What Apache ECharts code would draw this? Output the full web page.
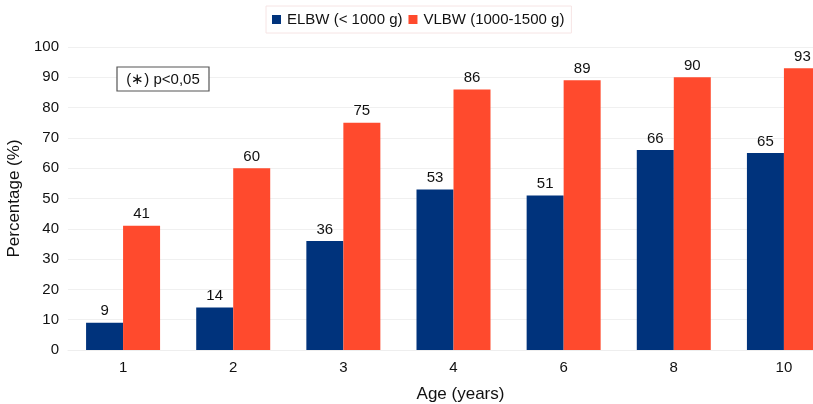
<!DOCTYPE html>
<html><head><meta charset="utf-8">
<script src="https://cdn.jsdelivr.net/npm/echarts@6/dist/echarts.min.js"></script>
<style>html,body{margin:0;padding:0;background:#fff}#c{width:813px;height:404px}</style>
</head><body><div id="c"></div>
<script>
const categories = ['1','2','3','4','6','8','10'];
const elbw = [9,14,36,53,51,66,65];
const vlbw = [41,60,75,86,89,90,93];
const seriesNames = ['ELBW (< 1000 g)','VLBW (1000-1500 g)'];
const yTicks = {min:0,max:100,interval:10};

const chart = echarts.init(document.getElementById('c'));
const font = 'Liberation Sans, Arial, sans-serif';
chart.setOption({
  animation:false,
  textStyle:{fontFamily:font},
  legend:{
    top:6, left:266,
    itemWidth:9, itemHeight:9, itemGap:6,
    borderColor:'#f6e4e4', borderWidth:1, padding:[6,7,6,6],
    textStyle:{fontSize:15,color:'#111',fontFamily:font,padding:[0,0,0,1]},
    icon:'rect',
    data:seriesNames
  },
  grid:{left:68,width:771,top:47,height:303,outerBoundsMode:'none',containLabel:false},
  xAxis:{
    type:'category', data:categories,
    name:'Age (years)', nameLocation:'middle', nameGap:36,
    nameTextStyle:{fontSize:17,color:'#111',fontFamily:font,padding:[0,0,0,14]},
    axisLine:{lineStyle:{color:'#eeeeee'}},
    axisTick:{show:false},
    axisLabel:{fontSize:15,color:'#111',margin:10}
  },
  yAxis:{
    type:'value', min:yTicks.min, max:yTicks.max, interval:yTicks.interval,
    name:'Percentage (%)', nameLocation:'middle', nameGap:40,
    nameTextStyle:{fontSize:17,color:'#111',fontFamily:font},
    axisLine:{show:false}, axisTick:{show:false},
    axisLabel:{fontSize:15,color:'#111',margin:9},
    splitLine:{lineStyle:{color:'#f0f0f0'}}
  },
  series:[
    {name:seriesNames[0],type:'bar',data:elbw,barWidth:37,barGap:'0%',
     itemStyle:{color:'#00337c'},
     label:{show:true,position:'top',fontSize:15,color:'#111',distance:4}},
    {name:seriesNames[1],type:'bar',data:vlbw,barWidth:37,barGap:'0%',
     itemStyle:{color:'#ff4a2d'},
     label:{show:true,position:'top',fontSize:15,color:'#111',distance:4}}
  ],
  graphic:[
    {type:'rect',z:100,shape:{x:117,y:67,width:92,height:24},
     style:{fill:'#fff',stroke:'#555',lineWidth:1.2}},
    {type:'text',z:101,x:163,y:79.5,style:{text:'(∗) p<0,05',fontSize:15,fill:'#111',
      align:'center',verticalAlign:'middle',textAlign:'center',textVerticalAlign:'middle',fontFamily:font}}
  ]
});
</script></body></html>
